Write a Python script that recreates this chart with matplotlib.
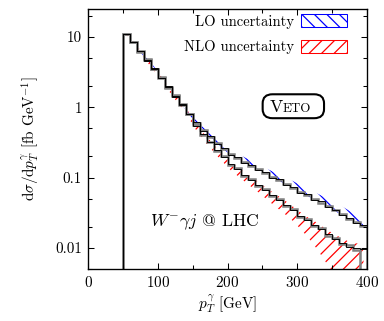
import numpy as np
import matplotlib
matplotlib.use("Agg")
import matplotlib.pyplot as plt
from matplotlib.patches import Patch, FancyBboxPatch

plt.rcParams['font.family'] = ['cmr10', 'DejaVu Serif']
plt.rcParams['mathtext.fontset'] = 'cm'
plt.rcParams['axes.formatter.use_mathtext'] = True
plt.rcParams['hatch.linewidth'] = 1.2

# ---- data ----
pt_edges = np.arange(50, 401, 10)
pt_centers = pt_edges[:-1] + 5

lo_central = [11.0, 8.5, 6.3, 4.7, 3.55, 2.63, 1.95, 1.45, 1.10, 0.81,
              0.60, 0.47, 0.38, 0.31, 0.257, 0.214, 0.19, 0.166, 0.148, 0.132,
              0.115, 0.102, 0.091, 0.081, 0.072, 0.063, 0.056, 0.050, 0.044, 0.039,
              0.034, 0.030, 0.026, 0.0234, 0.0204]
lo_alt = [11.1, 8.6, 6.4, 4.6, 3.6, 2.6, 2.0, 1.42, 1.12, 0.80,
          0.61, 0.46, 0.385, 0.305, 0.26, 0.21, 0.195, 0.162, 0.151, 0.128,
          0.118, 0.099, 0.094, 0.078, 0.074, 0.061, 0.058, 0.048, 0.046, 0.038,
          0.035, 0.029, 0.027, 0.0228, 0.0210]
nlo_central = [11.0, 8.5, 6.3, 4.7, 3.55, 2.63, 1.95, 1.45, 1.09, 0.79,
               0.55, 0.41, 0.316, 0.246, 0.195, 0.155, 0.131, 0.110, 0.093, 0.079,
               0.066, 0.056, 0.048, 0.041, 0.0345, 0.0288, 0.0245, 0.0213, 0.0183, 0.0155,
               0.0133, 0.0119, 0.0104, 0.0098, 0.0095]
nlo_alt = [11.2, 8.4, 6.2, 4.8, 3.5, 2.7, 1.9, 1.48, 1.07, 0.80,
           0.56, 0.40, 0.32, 0.24, 0.20, 0.150, 0.135, 0.106, 0.096, 0.076,
           0.068, 0.054, 0.050, 0.039, 0.036, 0.0275, 0.0255, 0.0205, 0.019, 0.0148,
           0.0138, 0.0114, 0.0108, 0.0092, 0.0]

lo_up_frac = [0.04, 0.05, 0.05, 0.06, 0.06, 0.07, 0.07, 0.08, 0.09, 0.09,
              0.10, 0.11, 0.12, 0.12, 0.13, 0.14, 0.15, 0.16, 0.17, 0.18,
              0.18, 0.19, 0.20, 0.21, 0.22, 0.23, 0.24, 0.24, 0.25, 0.26,
              0.27, 0.28, 0.29, 0.30, 0.30]
lo_dn_frac = [0.03, 0.03, 0.03, 0.03, 0.03, 0.03, 0.03, 0.03, 0.03, 0.03,
              0.03, 0.03, 0.03, 0.03, 0.03, 0.03, 0.03, 0.03, 0.03, 0.03,
              0.03, 0.03, 0.03, 0.03, 0.03, 0.03, 0.03, 0.03, 0.03, 0.03,
              0.03, 0.03, 0.03, 0.03, 0.03]
nlo_up_frac = [0.03, 0.03, 0.03, 0.04, 0.04, 0.04, 0.05, 0.05, 0.05, 0.06,
               0.06, 0.06, 0.07, 0.07, 0.07, 0.08, 0.08, 0.08, 0.09, 0.09,
               0.09, 0.10, 0.10, 0.10, 0.10, 0.11, 0.11, 0.12, 0.12, 0.13,
               0.14, 0.15, 0.16, 0.18, 0.20]
nlo_dn_frac = [0.04, 0.05, 0.06, 0.07, 0.08, 0.09, 0.10, 0.11, 0.12, 0.13,
               0.14, 0.15, 0.16, 0.17, 0.18, 0.19, 0.20, 0.21, 0.22, 0.23,
               0.24, 0.26, 0.28, 0.30, 0.32, 0.36, 0.42, 0.50, 0.58, 0.65,
               0.70, 0.72, 0.74, 0.76, 0.78]

y_ticks = [0.01, 0.1, 1, 10]
y_ticklabels = ["0.01", "0.1", "1", "10"]
x_ticks = [0, 100, 200, 300, 400]

# ---- plot ----
fig = plt.figure(figsize=(384 / 75, 321 / 75), dpi=75)
ax = fig.add_axes([88 / 384, 1 - 269 / 321, (367 - 88) / 384, (269 - 9) / 321])
ax.set_yscale('log')

lo = np.array(lo_central)
nlo = np.array(nlo_central)
ax.fill_between(pt_centers, lo * (1 - np.array(lo_dn_frac)), lo * (1 + np.array(lo_up_frac)),
                facecolor='none', edgecolor='blue', hatch='\\\\', linewidth=0)
ax.fill_between(pt_centers, nlo * (1 - np.array(nlo_dn_frac)), nlo * (1 + np.array(nlo_up_frac)),
                facecolor='none', edgecolor='red', hatch='//', linewidth=0)

base = 1e-4
ax.stairs(lo_central, pt_edges, baseline=base, color='#808080', lw=2.4)
ax.stairs(nlo_alt, pt_edges, baseline=base, color='#808080', lw=2.4)
ax.stairs(lo_alt, pt_edges, baseline=base, color='black', lw=0.9)
ax.stairs(nlo_central, pt_edges, baseline=base, color='black', lw=0.9)

ax.set_xlim(0, 400)
ax.set_ylim(0.005, 25)
ax.set_xticks(x_ticks)
ax.set_xticks([50, 150, 250, 350], minor=True)
ax.set_yticks(y_ticks)
ax.set_yticklabels(y_ticklabels)
minors = []
for d in [0.001, 0.01, 0.1, 1, 10]:
    minors += [2 * d, 5 * d]
ax.set_yticks([m for m in minors if 0.005 <= m <= 25], minor=True)
ax.yaxis.set_minor_formatter(matplotlib.ticker.NullFormatter())
ax.tick_params(which='both', direction='in', top=True, right=True, labelsize=14.5, width=1)
ax.tick_params(which='major', length=6, pad=6)
ax.tick_params(which='minor', length=3.5)
for s in ax.spines.values():
    s.set_linewidth(1.3)

ax.set_xlabel(r"$p_T^\gamma$ [GeV]", fontsize=14.5, labelpad=3)
ax.set_ylabel(r"d$\sigma$/d$p_T^\gamma$ [fb GeV$^{-1}$]", fontsize=14.5, labelpad=12)

handles = [Patch(facecolor='white', edgecolor='blue', hatch='\\\\', lw=1.0),
           Patch(facecolor='white', edgecolor='red', hatch='//', lw=1.0)]
ax.legend(handles, ["LO uncertainty", "NLO uncertainty"], loc='upper right',
          bbox_to_anchor=(0.93, 0.98), frameon=False, markerfirst=False,
          fontsize=14, handlelength=3.2, handleheight=0.95, labelspacing=0.8,
          handletextpad=0.45, borderpad=0, borderaxespad=0)

box = FancyBboxPatch((0.626, 0.58), 0.22, 0.092, transform=ax.transAxes,
                     boxstyle="round,pad=0,rounding_size=0.035", facecolor='white',
                     edgecolor='black', lw=2.0, zorder=5)
ax.add_patch(box)
ax.text(0.652, 0.604, "V", transform=ax.transAxes, fontsize=17, zorder=6, va='baseline')
ax.text(0.698, 0.604, "ETO", transform=ax.transAxes, fontsize=12.5, zorder=6, va='baseline')

ax.text(0.222, 0.18, r"$W^{-}\gamma j$ @ LHC", transform=ax.transAxes, fontsize=17,
        va='center', ha='left')

fig.savefig("out.png", dpi=75)
